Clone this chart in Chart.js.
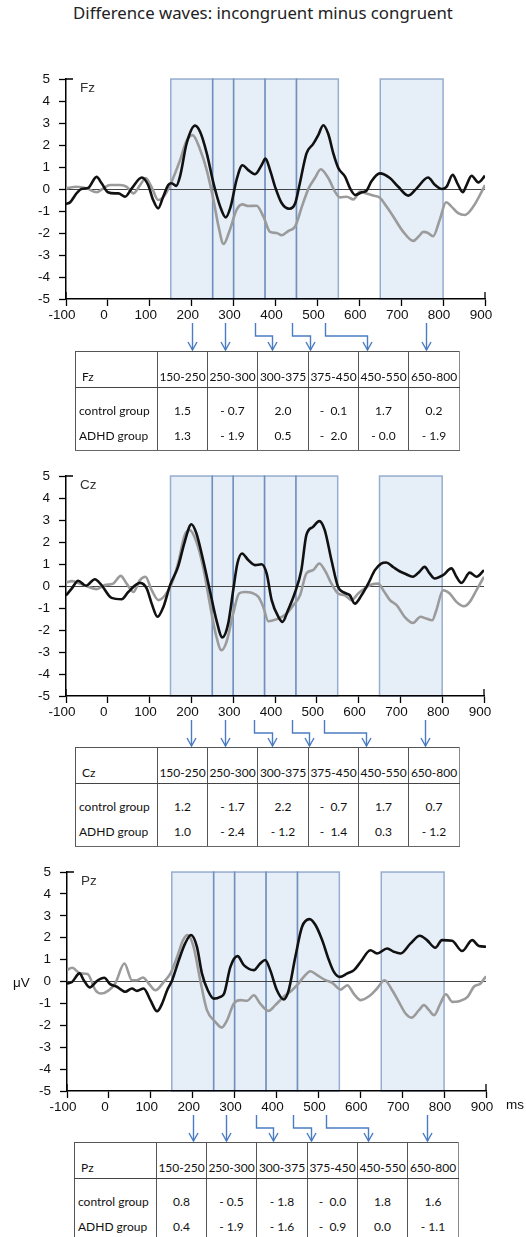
<!DOCTYPE html>
<html>
<head>
<meta charset="utf-8">
<script src="https://cdn.jsdelivr.net/npm/chart.js@4"></script>
<style>
html,body{margin:0;padding:0;background:#fff;}
body{width:526px;height:1237px;position:relative;overflow:hidden;font-family:"Liberation Sans",Arial,sans-serif;}
#title{position:absolute;left:0;width:526px;top:3px;line-height:20px;text-align:center;font-family:"Noto Sans",sans-serif;font-size:16.8px;color:#222;}
canvas{position:absolute;left:0;}
table.win{position:absolute;border-collapse:collapse;table-layout:fixed;font-family:Lato,sans-serif;font-size:12px;color:#111;width:384px;}
table.win td{padding:0;line-height:18px;border-left:1px solid #555;border-right:1px solid #555;white-space:pre;text-align:center;overflow:visible;}
table.win td:last-child{border-right:1px solid #8a8a8a;}
table.win tr.h td{padding-top:16px;padding-bottom:1px;border-top:1px solid #555;border-bottom:1px solid #444;vertical-align:bottom;}
table.win tr.r1 td{padding-top:14px;padding-bottom:3px;}
table.win tr.r2 td{padding-top:4px;padding-bottom:5px;border-bottom:1px solid #666;}
table.win td.lab{text-align:left;padding-left:3px;}
table.win tr.h td.lab{padding-left:6px;}
.axlab{position:absolute;font-family:"Liberation Sans",Arial,sans-serif;font-size:13.5px;color:#111;line-height:16px;}
</style>
</head>
<body>
<div id="title">Difference waves: incongruent minus congruent</div>
<canvas id="cFz" width="526" height="311" style="top:40px"></canvas>
<canvas id="cCz" width="526" height="297" style="top:450px"></canvas>
<canvas id="cPz" width="526" height="292" style="top:850px"></canvas>
<div class="axlab" style="left:13px;top:975px">μV</div>
<div class="axlab" style="left:506px;top:1097px">ms</div>
<script>
// ---- data ----
const timeWindows = [[150,250],[250,300],[300,375],[375,450],[450,550],[650,800]];
const windowLabels = ["150-250","250-300","300-375","375-450","450-550","650-800"];
const yTicks = [-5,-4,-3,-2,-1,0,1,2,3,4,5];
const arrowLinks = [[200,200],[280,280],[350,392],[440,482],[518,618],[760,760]];

const fzControl = [[-100,-0.68],[-90,-0.6],[-75,-0.2],[-63,0.0],[-47,0.05],[-27,0.55],[-15,0.26],[0,-0.15],[17,-0.2],[25,-0.2],[41,-0.35],[57,0.03],[81,0.52],[96,0.18],[108,-0.5],[120,-0.88],[132,-0.35],[144,0.18],[152,0.26],[163,0.14],[172,0.56],[188,2.08],[208,2.88],[220,2.6],[236,1.62],[252,0.26],[268,-0.8],[281,-1.29],[293,-0.8],[307,0.41],[321,1.08],[335,0.86],[351,0.67],[367,1.09],[376,1.38],[387,0.86],[399,0.1],[415,-0.65],[433,-0.9],[447,-0.65],[458,0.25],[474,1.62],[490,2.05],[502,2.45],[514,2.9],[526,2.5],[538,1.62],[550,0.95],[566,0.56],[578,0.03],[590,-0.27],[606,-0.15],[617,-0.08],[629,0.35],[649,0.71],[673,0.5],[693,0.1],[717,-0.3],[737,0.03],[764,0.52],[781,0.18],[797,0.0],[808,0.1],[823,0.64],[834,0.26],[847,-0.15],[856,0.18],[868,0.6],[884,0.3],[900,0.6]];
const fzADHD = [[-100,0.03],[-75,0.1],[-51,0.03],[-27,-0.15],[-11,0.03],[5,0.18],[29,0.18],[45,0.1],[61,-0.2],[77,0.18],[90,0.5],[104,0.1],[120,-0.5],[136,-0.27],[152,0.33],[172,1.3],[188,2.2],[202,2.45],[220,1.8],[236,0.85],[252,-0.5],[264,-1.7],[276,-2.5],[291,-1.86],[307,-0.95],[321,-0.7],[335,-0.77],[355,-0.76],[371,-1.25],[387,-1.95],[403,-2.0],[415,-2.1],[431,-1.9],[447,-1.7],[463,-0.8],[479,0.03],[494,0.5],[508,0.9],[526,0.5],[542,-0.12],[554,-0.38],[570,-0.35],[586,-0.47],[602,-0.12],[617,-0.2],[633,-0.3],[649,-0.4],[665,-0.8],[681,-1.25],[705,-1.95],[729,-2.36],[741,-2.17],[753,-1.95],[764,-2.0],[776,-2.15],[792,-1.4],[807,-0.6],[820,-0.8],[836,-1.1],[852,-1.18],[872,-0.8],[888,-0.27],[900,0.18]];

const czControl = [[-100,-0.43],[-86,-0.11],[-71,0.24],[-52,0.01],[-31,0.31],[-15,0.04],[9,-0.54],[33,-0.6],[49,-0.27],[77,0.14],[93,-0.11],[105,-0.8],[119,-1.4],[133,-0.95],[149,0.04],[168,0.87],[184,2.01],[200,2.81],[212,2.39],[228,1.18],[244,-0.19],[260,-1.56],[274,-2.34],[288,-1.71],[300,-0.19],[310,1.02],[321,1.48],[336,1.18],[352,0.95],[368,0.99],[380,0.57],[392,-0.64],[408,-1.4],[418,-1.63],[431,-1.1],[447,-0.34],[463,0.72],[475,2.31],[491,2.69],[506,2.95],[519,2.54],[535,1.18],[551,-0.04],[567,-0.31],[579,-0.42],[591,-0.8],[607,-0.42],[623,0.11],[639,0.72],[654,1.02],[666,1.07],[682,0.87],[698,0.67],[710,0.57],[730,0.42],[745,0.64],[758,0.87],[770,0.57],[782,0.34],[802,0.49],[822,0.8],[834,0.42],[846,0.14],[866,0.61],[882,0.42],[900,0.72]];
const czADHD = [[-100,0.16],[-86,0.22],[-67,0.11],[-47,-0.04],[-27,-0.14],[-7,0.04],[13,0.11],[31,0.46],[45,0.11],[61,-0.27],[77,0.27],[90,0.42],[105,-0.19],[121,-0.64],[137,-0.42],[153,0.11],[168,1.02],[184,2.31],[196,2.54],[212,2.01],[228,0.87],[244,-0.8],[258,-2.16],[272,-2.92],[284,-2.54],[300,-1.25],[314,-0.34],[328,-0.27],[344,-0.31],[360,-0.49],[372,-0.95],[384,-1.6],[396,-1.56],[412,-1.45],[428,-1.25],[444,-0.87],[460,-0.42],[475,0.57],[491,0.72],[506,1.02],[519,0.72],[535,0.11],[551,-0.34],[567,-0.42],[583,-0.64],[599,-0.34],[615,-0.11],[631,0.07],[647,0.11],[659,-0.19],[675,-0.64],[691,-0.87],[710,-1.4],[730,-1.68],[748,-1.4],[762,-1.48],[776,-1.56],[786,-1.1],[802,-0.19],[818,-0.34],[834,-0.72],[852,-0.92],[866,-0.72],[882,-0.19],[900,0.42]];

const pzControl = [[-100,-0.09],[-88,-0.02],[-70,0.37],[-60,0.06],[-46,-0.27],[-28,0.03],[-11,0.17],[3,-0.12],[19,-0.24],[39,-0.47],[55,-0.32],[67,-0.43],[83,-0.32],[99,-0.85],[115,-1.36],[127,-1.01],[139,-0.4],[151,0.06],[167,0.98],[182,1.74],[196,2.12],[210,1.59],[222,0.37],[236,-0.4],[250,-0.78],[266,-0.7],[275,-0.55],[290,0.67],[307,1.16],[322,0.75],[346,0.52],[361,0.82],[373,0.98],[385,0.52],[401,-0.4],[417,-0.82],[429,-0.4],[445,1.13],[461,2.5],[479,2.85],[493,2.58],[509,1.89],[525,0.98],[537,0.44],[551,0.21],[569,0.37],[585,0.52],[601,0.9],[624,1.43],[640,1.28],[664,1.51],[680,1.36],[696,1.28],[720,1.74],[742,2.09],[759,1.89],[779,1.54],[795,1.89],[819,1.86],[843,1.39],[867,1.89],[883,1.62],[900,1.59]];
const pzADHD = [[-100,0.52],[-88,0.63],[-68,0.37],[-51,0.34],[-32,-0.4],[-19,-0.55],[0,-0.4],[15,-0.09],[37,0.82],[55,0.06],[67,0.06],[81,0.18],[95,-0.09],[111,-0.4],[131,-0.02],[147,0.37],[163,1.13],[177,1.89],[188,2.12],[202,1.59],[218,0.06],[234,-1.31],[254,-1.84],[269,-2.1],[282,-1.77],[298,-1.01],[314,-0.85],[330,-0.88],[346,-0.63],[361,-1.01],[381,-1.34],[397,-1.08],[417,-0.7],[437,-0.4],[449,-0.17],[465,0.21],[481,0.47],[497,0.29],[517,0.06],[533,-0.06],[553,-0.37],[569,-0.17],[585,-0.58],[601,-0.85],[624,-0.63],[640,-0.32],[658,0.06],[676,-0.4],[692,-0.93],[708,-1.46],[722,-1.65],[740,-1.31],[752,-1.08],[764,-1.31],[776,-1.54],[791,-1.01],[804,-0.58],[820,-0.93],[836,-0.9],[856,-0.7],[871,-0.24],[887,-0.09],[900,0.24]];

const fzTableControl = ["1.5","- 0.7","2.0","-  0.1","1.7","0.2"];
const fzTableADHD = ["1.3","- 1.9","0.5","-  2.0","- 0.0","- 1.9"];
const czTableControl = ["1.2","- 1.7","2.2","-  0.7","1.7","0.7"];
const czTableADHD = ["1.0","- 2.4","- 1.2","-  1.4","0.3","- 1.2"];
const pzTableControl = ["0.8","- 0.5","- 1.8","-  0.0","1.8","1.6"];
const pzTableADHD = ["0.4","- 1.9","- 1.6","-  0.9","0.0","- 1.1"];

// ---- drawing ----
const tickFont = {family:"'Liberation Sans', Arial, sans-serif", size:13.5};

const panelPlugin = {
  id:'panelDeco',
  beforeDraw(chart, args, opts){
    const {ctx, chartArea:a, scales:{x}} = chart;
    ctx.save();
    timeWindows.forEach(([s,e])=>{
      const x0 = x.getPixelForValue(s), x1 = x.getPixelForValue(e);
      ctx.fillStyle = 'rgba(222,232,246,0.75)';
      ctx.fillRect(x0, a.top, x1-x0, a.bottom-a.top);
    });
    timeWindows.forEach(([s,e])=>{
      const x0 = x.getPixelForValue(s), x1 = x.getPixelForValue(e);
      ctx.strokeStyle = 'rgba(90,125,178,0.6)';
      ctx.lineWidth = 1.5;
      ctx.strokeRect(x0, a.top, x1-x0, a.bottom-a.top);
    });
    ctx.restore();
  },
  afterDraw(chart, args, opts){
    const {ctx, chartArea:a, scales:{x}} = chart;
    ctx.save();
    ctx.strokeStyle = '#000'; ctx.lineWidth = 1.3;
    ctx.beginPath();
    ctx.moveTo(a.left, a.top); ctx.lineTo(a.left+7, a.top);
    ctx.moveTo(a.left, a.bottom); ctx.lineTo(a.left, a.bottom-7);
    ctx.moveTo(a.right, a.bottom); ctx.lineTo(a.right, a.bottom-7);
    ctx.stroke();
    ctx.fillStyle = '#333';
    ctx.font = "13.5px 'Liberation Sans', Arial, sans-serif";
    ctx.textBaseline = 'middle';
    ctx.fillText(opts.label, a.left+14, a.top+9);
    ctx.strokeStyle = '#4a7cc2'; ctx.lineWidth = 1.4;
    const y0 = a.bottom+24, yb = a.bottom+37, y1 = chart.height-1;
    arrowLinks.forEach(([s,e])=>{
      const xs = Math.round(x.getPixelForValue(s))+0.5, xe = Math.round(x.getPixelForValue(e))+0.5;
      ctx.beginPath();
      ctx.moveTo(xs, y0);
      if (s !== e){ ctx.lineTo(xs, yb); ctx.lineTo(xe, yb); }
      ctx.lineTo(xe, y1);
      ctx.stroke();
      ctx.beginPath();
      ctx.moveTo(xe-4.5, y1-8); ctx.lineTo(xe, y1); ctx.lineTo(xe+4.5, y1-8);
      ctx.stroke();
    });
    ctx.restore();
  }
};

function makeChart(id, label, control, adhd, geo){
  const cv = document.getElementById(id);
  return new Chart(cv, {
    type:'line',
    data:{datasets:[
      {data: control.map(([t,v])=>({x:t,y:v})), borderColor:'#111', borderWidth:2.6, pointRadius:0, cubicInterpolationMode:'monotone', order:1},
      {data: adhd.map(([t,v])=>({x:t,y:v})), borderColor:'#9b9b9b', borderWidth:2.6, pointRadius:0, cubicInterpolationMode:'monotone', order:2}
    ]},
    options:{
      responsive:false, animation:false, devicePixelRatio:1,
      layout:{padding:{top:geo.top, right:geo.right, left:0, bottom:geo.bottom}},
      plugins:{legend:{display:false}, tooltip:{enabled:false}, panelDeco:{label}},
      scales:{
        x:{type:'linear', min:-100, max:900,
           afterFit:s=>{s.height=24;},
           ticks:{stepSize:100, autoSkip:false, maxRotation:0, font:tickFont, color:'#111', padding:1, labelOffset:-4},
           grid:{drawOnChartArea:false, tickLength:7, tickColor:'#000', tickWidth:1.3},
           border:{color:'#000', width:1.5}},
        y:{type:'linear', min:-5, max:5,
           afterFit:s=>{s.width=geo.left;},
           afterBuildTicks:s=>{s.ticks = yTicks.map(v=>({value:v}));},
           ticks:{font:tickFont, color:'#111', padding:9},
           grid:{color:c=> (c.tick && c.tick.value===0) ? '#444' : 'rgba(0,0,0,0)', lineWidth:1, tickColor:'#000', tickLength:7, tickWidth:1.3},
           border:{color:'#000', width:1.5}}
      }
    },
    plugins:[panelPlugin]
  });
}

makeChart('cFz','Fz',fzControl,fzADHD,{top:39,right:41,bottom:28,left:66});
makeChart('cCz','Cz',czControl,czADHD,{top:26,right:42,bottom:27,left:66});
makeChart('cPz','Pz',pzControl,pzADHD,{top:22,right:40,bottom:27,left:67});

function makeTable(top, left, name, ctrl, adhd){
  const t = document.createElement('table');
  t.className = 'win';
  t.style.top = top+'px'; t.style.left = left+'px';
  const cg = document.createElement('colgroup');
  [82,50,50,51,50,50,51].forEach(w=>{const c=document.createElement('col'); c.style.width=w+'px'; cg.appendChild(c);});
  t.appendChild(cg);
  const rows = [['h',name,windowLabels],['r1','control group',ctrl],['r2','ADHD group',adhd]];
  rows.forEach(([cls,lab,vals])=>{
    const tr = document.createElement('tr'); tr.className = cls;
    const td = document.createElement('td'); td.className='lab'; td.textContent = lab; tr.appendChild(td);
    vals.forEach(v=>{const d=document.createElement('td'); d.textContent=v; tr.appendChild(d);});
    t.appendChild(tr);
  });
  document.body.appendChild(t);
}
makeTable(351, 75, 'Fz', fzTableControl, fzTableADHD);
makeTable(747, 75, 'Cz', czTableControl, czTableADHD);
makeTable(1142, 74, 'Pz', pzTableControl, pzTableADHD);
</script>
</body>
</html>
